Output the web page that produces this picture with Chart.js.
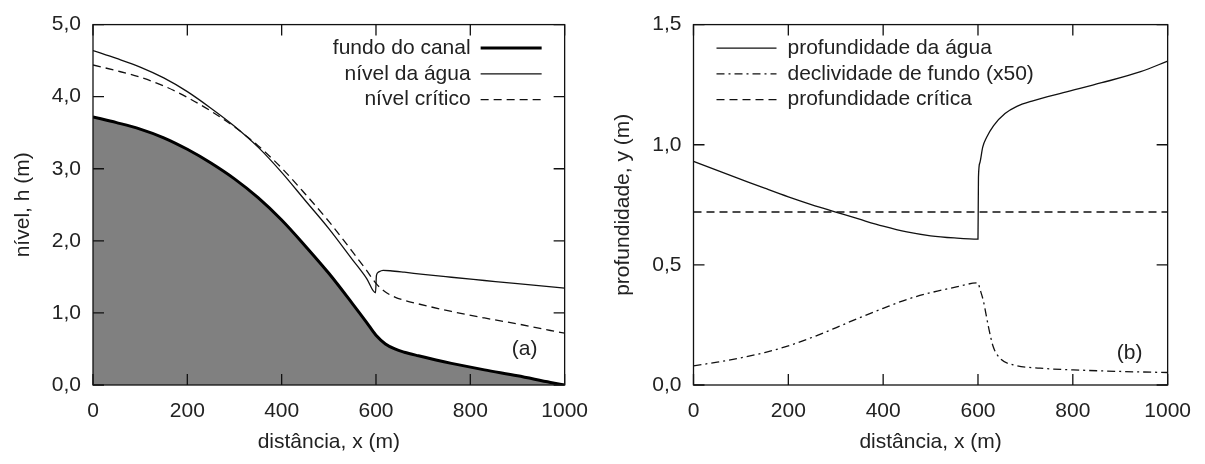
<!DOCTYPE html>
<html>
<head>
<meta charset="utf-8">
<script src="https://cdn.jsdelivr.net/npm/chart.js@4.4.1/dist/chart.umd.min.js"></script>
<style>
  body { margin: 0; background: #fff; }
  canvas { position: absolute; top: 0; }
  #graficoA { left: 0; }
  #graficoB { left: 602px; }
</style>
</head>
<body>
<canvas id="graficoA" width="602" height="464"></canvas>
<canvas id="graficoB" width="603" height="464"></canvas>
<script>
// (a) níveis ao longo do canal
const distFundo = [0, 50, 100, 150, 200, 250, 300, 350, 400, 450, 500, 550, 580, 600, 620, 640, 660, 690, 760, 830, 900, 970, 1000];
const fundoCanal = [3.72, 3.64, 3.55, 3.43, 3.27, 3.08, 2.86, 2.60, 2.29, 1.93, 1.55, 1.13, 0.87, 0.69, 0.57, 0.50, 0.455, 0.405, 0.30, 0.21, 0.128, 0.036, 0.0];
const nivelCritico = [4.44, 4.36, 4.27, 4.15, 3.99, 3.80, 3.58, 3.32, 3.01, 2.65, 2.27, 1.85, 1.59, 1.41, 1.29, 1.22, 1.175, 1.125, 1.02, 0.93, 0.848, 0.756, 0.72];
const distAgua = [0, 50, 100, 150, 200, 250, 300, 350, 400, 450, 500, 550, 580, 599, 601, 605, 615, 630, 660, 700, 760, 830, 900, 1000];
const nivelAgua = [4.64, 4.53, 4.41, 4.26, 4.07, 3.84, 3.59, 3.30, 2.95, 2.56, 2.17, 1.74, 1.48, 1.28, 1.52, 1.565, 1.59, 1.585, 1.565, 1.535, 1.495, 1.45, 1.405, 1.345];

// (b) profundidades
const distProf = [0, 50, 100, 150, 200, 250, 300, 350, 400, 450, 500, 550, 600, 601, 604, 610, 618, 633, 657, 682, 714, 780, 861, 943, 1000];
const profundidade = [0.931, 0.893, 0.856, 0.819, 0.783, 0.750, 0.720, 0.690, 0.661, 0.637, 0.621, 0.612, 0.607, 0.865, 0.925, 0.99, 1.03, 1.08, 1.13, 1.16, 1.182, 1.217, 1.258, 1.304, 1.348];
const distDecl = [0, 50, 100, 150, 200, 250, 300, 350, 400, 450, 500, 550, 600, 604, 611, 622, 632, 646, 674, 731, 801, 906, 1000];
const declividade50 = [0.080, 0.095, 0.113, 0.135, 0.163, 0.198, 0.238, 0.280, 0.319, 0.356, 0.384, 0.406, 0.425, 0.40, 0.353, 0.243, 0.16, 0.112, 0.084, 0.070, 0.063, 0.056, 0.052];
const distCritica = [0, 1000];
const profCritica = [0.72, 0.72];

const ticksX = [0, 200, 400, 600, 800, 1000];

Chart.defaults.font.family = "'Liberation Sans', Arial, sans-serif";
Chart.defaults.font.size = 21;
Chart.defaults.color = '#222';

const pontos = (xs, ys) => xs.map((x, i) => ({ x: x, y: ys[i] }));
const virgula = v => v.toFixed(1).replace('.', ',');

// moldura com marcas para dentro nos quatro lados
const moldura = {
  id: 'moldura',
  afterDatasetsDraw(chart) {
    const { ctx, chartArea: a, scales } = chart;
    const t = 11;
    ctx.save();
    ctx.strokeStyle = '#111';
    ctx.lineWidth = 1.3;
    ctx.strokeRect(a.left, a.top, a.right - a.left, a.bottom - a.top);
    ctx.beginPath();
    scales.x.ticks.forEach(tk => {
      const px = scales.x.getPixelForValue(tk.value);
      ctx.moveTo(px, a.bottom); ctx.lineTo(px, a.bottom - t);
      ctx.moveTo(px, a.top); ctx.lineTo(px, a.top + t);
    });
    scales.y.ticks.forEach(tk => {
      const py = scales.y.getPixelForValue(tk.value);
      ctx.moveTo(a.left, py); ctx.lineTo(a.left + t, py);
      ctx.moveTo(a.right, py); ctx.lineTo(a.right - t, py);
    });
    ctx.stroke();
    ctx.restore();
  }
};

// legenda desenhada dentro da área do gráfico
const legendaLinhas = {
  id: 'legendaLinhas',
  afterDraw(chart, args, opts) {
    const { ctx, chartArea: a } = chart;
    ctx.save();
    ctx.font = "21px 'Liberation Sans', Arial, sans-serif";
    ctx.fillStyle = '#222';
    ctx.textBaseline = 'middle';
    chart.data.datasets.forEach((ds, i) => {
      const y = a.top + 23.5 + i * 25.8;
      let x1, x2;
      if (opts.lado === 'direita') {
        ctx.textAlign = 'right';
        ctx.fillText(ds.label, a.right - 94, y);
        x1 = a.right - 84; x2 = a.right - 23;
      } else {
        ctx.textAlign = 'left';
        ctx.fillText(ds.label, a.left + 94, y);
        x1 = a.left + 23; x2 = a.left + 83;
      }
      ctx.strokeStyle = ds.borderColor;
      ctx.lineWidth = ds.borderWidth;
      ctx.setLineDash(ds.borderDash || []);
      ctx.beginPath();
      ctx.moveTo(x1, y); ctx.lineTo(x2, y);
      ctx.stroke();
    });
    ctx.setLineDash([]);
    ctx.textAlign = 'center';
    ctx.fillText(opts.painel, a.right + opts.painelDx, a.bottom + opts.painelDy);
    ctx.restore();
  }
};

function opcoes(yMax, yPasso, tituloY, padTitulo, larguraY, dirPad, legenda) {
  return {
    responsive: false,
    animation: false,
    devicePixelRatio: 1,
    layout: { padding: { top: 23, right: dirPad, bottom: 0, left: 0 } },
    elements: { point: { radius: 0 } },
    plugins: {
      legend: { display: false },
      tooltip: { enabled: false },
      legendaLinhas: legenda
    },
    scales: {
      x: {
        type: 'linear', min: 0, max: 1000,
        afterBuildTicks: s => { s.ticks = ticksX.map(v => ({ value: v })); },
        afterFit: s => { s.height = 79; },
        grid: { display: false, drawTicks: false },
        border: { display: false },
        ticks: { padding: 14, maxRotation: 0, callback: v => String(v) },
        title: { display: true, text: 'distância, x (m)', padding: { top: 0, bottom: 9 } }
      },
      y: {
        min: 0, max: yMax,
        afterFit: s => { s.width = larguraY; },
        grid: { display: false, drawTicks: false },
        border: { display: false },
        ticks: { stepSize: yPasso, padding: 12, callback: virgula },
        title: { display: true, text: tituloY, padding: { top: padTitulo, bottom: 0 } }
      }
    }
  };
}

new Chart(document.getElementById('graficoA'), {
  type: 'line',
  data: {
    datasets: [{
      label: 'fundo do canal',
      data: pontos(distFundo, fundoCanal),
      borderColor: '#000',
      borderWidth: 3,
      fill: 'origin',
      backgroundColor: '#808080',
      cubicInterpolationMode: 'monotone'
    }, {
      label: 'nível da água',
      data: pontos(distAgua, nivelAgua),
      borderColor: '#111',
      borderWidth: 1.3,
      fill: false,
      cubicInterpolationMode: 'monotone'
    }, {
      label: 'nível crítico',
      data: pontos(distFundo, nivelCritico),
      borderColor: '#111',
      borderWidth: 1.3,
      borderDash: [8, 5],
      fill: false,
      cubicInterpolationMode: 'monotone'
    }]
  },
  options: opcoes(5, 1, 'nível, h (m)', 11, 93, 34,
    { lado: 'direita', painel: '(a)', painelDx: -40, painelDy: -36 }),
  plugins: [moldura, legendaLinhas]
});

new Chart(document.getElementById('graficoB'), {
  type: 'line',
  data: {
    datasets: [{
      label: 'profundidade da água',
      data: pontos(distProf, profundidade),
      borderColor: '#111',
      borderWidth: 1.3,
      fill: false,
      cubicInterpolationMode: 'monotone'
    }, {
      label: 'declividade de fundo (x50)',
      data: pontos(distDecl, declividade50),
      borderColor: '#111',
      borderWidth: 1.3,
      borderDash: [8, 4, 2, 4],
      fill: false,
      cubicInterpolationMode: 'monotone'
    }, {
      label: 'profundidade crítica',
      data: pontos(distCritica, profCritica),
      borderColor: '#111',
      borderWidth: 1.3,
      borderDash: [8, 5],
      fill: false
    }]
  },
  options: opcoes(1.5, 0.5, 'profundidade, y (m)', 9, 91.5, 37,
    { lado: 'esquerda', painel: '(b)', painelDx: -38, painelDy: -32 }),
  plugins: [moldura, legendaLinhas]
});
</script>
</body>
</html>
